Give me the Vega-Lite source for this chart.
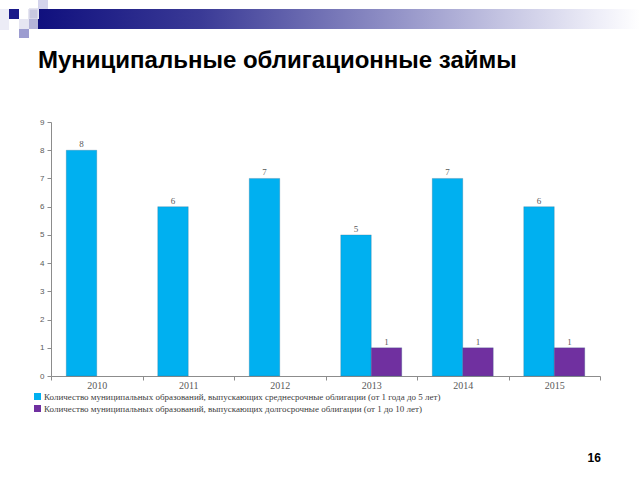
{
  "$schema": "https://vega.github.io/schema/vega-lite/v6.json",
  "background": "white",
  "padding": {"left": 0, "top": 0, "right": 0, "bottom": 17},
  "config": {"view": {"stroke": null}},
  "data": {"values": [
    {"year": "2010", "series": "Количество муниципальных образований, выпускающих среднесрочные облигации (от 1 года до 5 лет)", "value": 8},
    {"year": "2011", "series": "Количество муниципальных образований, выпускающих среднесрочные облигации (от 1 года до 5 лет)", "value": 6},
    {"year": "2012", "series": "Количество муниципальных образований, выпускающих среднесрочные облигации (от 1 года до 5 лет)", "value": 7},
    {"year": "2013", "series": "Количество муниципальных образований, выпускающих среднесрочные облигации (от 1 года до 5 лет)", "value": 5},
    {"year": "2014", "series": "Количество муниципальных образований, выпускающих среднесрочные облигации (от 1 года до 5 лет)", "value": 7},
    {"year": "2015", "series": "Количество муниципальных образований, выпускающих среднесрочные облигации (от 1 года до 5 лет)", "value": 6},
    {"year": "2013", "series": "Количество муниципальных образований, выпускающих долгосрочные облигации (от 1 до 10 лет)", "value": 1},
    {"year": "2014", "series": "Количество муниципальных образований, выпускающих долгосрочные облигации (от 1 до 10 лет)", "value": 1},
    {"year": "2015", "series": "Количество муниципальных образований, выпускающих долгосрочные облигации (от 1 до 10 лет)", "value": 1}
  ]},
  "vconcat": [
    {
      "width": 589,
      "height": 38,
      "encoding": {
        "x": {"datum": 38, "type": "quantitative", "scale": {"domain": [51, 640], "nice": false, "zero": false}, "axis": null},
        "y": {"datum": 9, "type": "quantitative", "scale": {"domain": [0, 38], "nice": false, "reverse": true}, "axis": null},
        "x2": {"datum": 640},
        "y2": {"datum": 29}
      },
      "layer": [
        {
          "mark": {"type": "rect", "color": {"gradient": "linear", "x1": 0, "y1": 0, "x2": 1, "y2": 0, "stops": [
            {"offset": 0, "color": "#10107e"},
            {"offset": 0.27, "color": "#3a3a96"},
            {"offset": 0.6, "color": "#9494c8"},
            {"offset": 0.77, "color": "#c4c4e2"},
            {"offset": 0.93, "color": "#eeeef8"},
            {"offset": 1, "color": "#ffffff"}
          ]}}
        },
        {
          "mark": {"type": "rect", "color": "#ececf6"},
          "encoding": {"x": {"datum": 0, "type": "quantitative"}, "x2": {"datum": 9}, "y": {"datum": 9, "type": "quantitative"}, "y2": {"datum": 30}}
        },
        {
          "mark": {"type": "rect", "color": "#1a1a8a"},
          "encoding": {"x": {"datum": 9, "type": "quantitative"}, "x2": {"datum": 19}, "y": {"datum": 9, "type": "quantitative"}, "y2": {"datum": 19}}
        },
        {
          "mark": {"type": "rect", "color": "#d4d4ec"},
          "encoding": {"x": {"datum": 38, "type": "quantitative"}, "x2": {"datum": 48}, "y": {"datum": 0, "type": "quantitative"}, "y2": {"datum": 9}}
        },
        {
          "mark": {"type": "rect", "color": "#c8c8e0", "stroke": "#e4e4f0", "strokeWidth": 1},
          "encoding": {"x": {"datum": 29, "type": "quantitative"}, "x2": {"datum": 38}, "y": {"datum": 9, "type": "quantitative"}, "y2": {"datum": 19}}
        },
        {
          "mark": {"type": "rect", "color": "#e6e6f2"},
          "encoding": {"x": {"datum": 19, "type": "quantitative"}, "x2": {"datum": 29}, "y": {"datum": 19, "type": "quantitative"}, "y2": {"datum": 29}}
        },
        {
          "mark": {"type": "rect", "color": "#b4b4d8"},
          "encoding": {"x": {"datum": 29, "type": "quantitative"}, "x2": {"datum": 38}, "y": {"datum": 19, "type": "quantitative"}, "y2": {"datum": 29}}
        },
        {
          "mark": {"type": "rect", "color": "#9c9cd0"},
          "encoding": {"x": {"datum": 19, "type": "quantitative"}, "x2": {"datum": 29}, "y": {"datum": 29, "type": "quantitative"}, "y2": {"datum": 38}}
        }
      ]
    },
    {
      "width": 549,
      "height": 254,
      "title": {
        "text": "Муниципальные облигационные займы",
        "anchor": "start",
        "frame": "group",
        "dx": -13,
        "offset": 45,
        "font": "Liberation Sans",
        "fontSize": 24,
        "fontWeight": "bold",
        "color": "#000000"
      },
      "encoding": {
        "x": {
          "field": "year",
          "type": "nominal",
          "scale": {"paddingInner": 0, "paddingOuter": 0},
          "axis": {
            "title": null,
            "labelAngle": 0,
            "tickBand": "extent",
            "labelFont": "Liberation Serif",
            "labelFontSize": 10,
            "labelColor": "#595959",
            "domainColor": "#8c8c8c",
            "tickColor": "#8c8c8c",
            "tickSize": 4,
            "labelPadding": 0
          }
        },
        "y": {
          "field": "value",
          "type": "quantitative",
          "scale": {"domain": [0, 9], "nice": false},
          "axis": {
            "title": "16",
            "titleAngle": 0,
            "titleX": 536,
            "titleY": 339,
            "titleAlign": "left",
            "titleBaseline": "alphabetic",
            "titleFont": "Liberation Sans",
            "titleFontSize": 12,
            "titleFontWeight": "bold",
            "titleColor": "#000000",
            "values": [0, 1, 2, 3, 4, 5, 6, 7, 8, 9],
            "grid": false,
            "labelFont": "Liberation Sans",
            "labelFontSize": 8,
            "labelColor": "#595959",
            "labelPadding": 3,
            "tickSize": 4,
            "tickColor": "#8c8c8c",
            "domainColor": "#8c8c8c"
          }
        },
        "xOffset": {
          "field": "series",
          "sort": [
            "Количество муниципальных образований, выпускающих среднесрочные облигации (от 1 года до 5 лет)",
            "Количество муниципальных образований, выпускающих долгосрочные облигации (от 1 до 10 лет)"
          ],
          "scale": {"paddingInner": 0, "paddingOuter": 0.5}
        }
      },
      "layer": [
        {
          "mark": {"type": "bar", "stroke": "#2a5f80", "strokeWidth": 0.5, "strokeOpacity": 0.5},
          "encoding": {
            "color": {
              "field": "series",
              "type": "nominal",
              "scale": {
                "domain": [
                  "Количество муниципальных образований, выпускающих среднесрочные облигации (от 1 года до 5 лет)",
                  "Количество муниципальных образований, выпускающих долгосрочные облигации (от 1 до 10 лет)"
                ],
                "range": ["#00B0F0", "#7030A0"]
              },
              "legend": {
                "title": null,
                "orient": "none",
                "legendX": -18,
                "legendY": 392,
                "direction": "vertical",
                "symbolType": "square",
                "symbolSize": 49,
                "symbolStrokeWidth": 0,
                "labelFont": "Liberation Serif",
                "labelFontSize": 9,
                "labelColor": "#404040",
                "labelLimit": 600,
                "rowPadding": 2,
                "labelOffset": 2
              }
            }
          }
        },
        {
          "mark": {"type": "text", "dy": -3, "baseline": "alphabetic", "font": "Liberation Serif", "fontSize": 9, "color": "#595959"},
          "encoding": {"text": {"field": "value", "type": "quantitative"}}
        }
      ]
    }
  ],
  "spacing": 11,
  "align": "none"
}
